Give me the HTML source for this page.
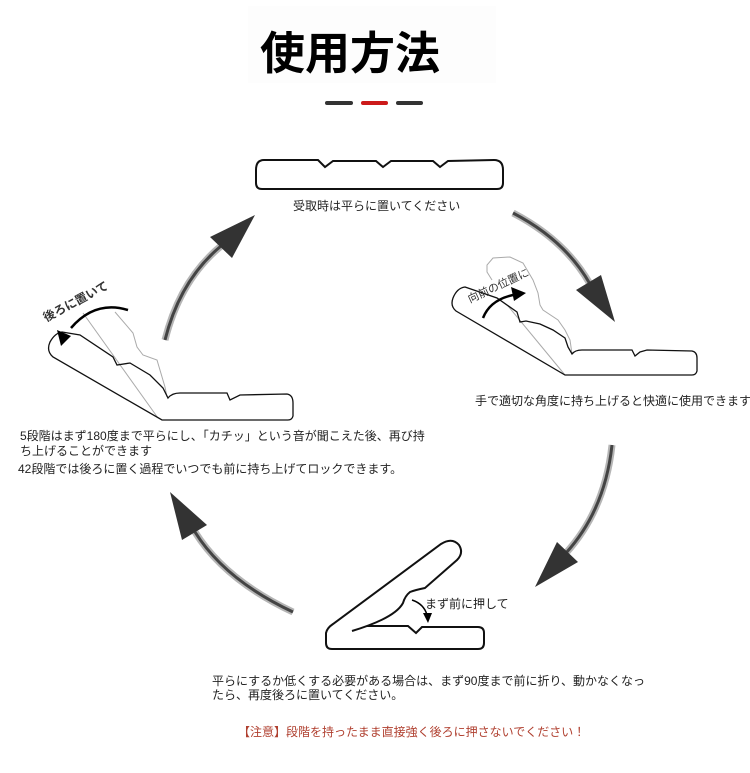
<!DOCTYPE html>
<html>
<head>
<meta charset="utf-8">
<style>
  html,body{margin:0;padding:0;background:#fff;}
  body{width:750px;height:773px;overflow:hidden;}
  svg{display:block;}
  .t{font-family:"Liberation Sans","Noto Sans CJK JP",sans-serif;font-size:12px;fill:#222;}
</style>
</head>
<body>
<svg width="750" height="773" viewBox="0 0 750 773" xmlns="http://www.w3.org/2000/svg">
  <!-- Title -->
  <rect x="248" y="6" width="248" height="77" fill="#fdfdfd"/>
  <text x="260" y="69" font-family="'Noto Sans CJK JP','Noto Sans CJK SC',sans-serif" font-weight="bold" font-size="45" fill="#000">使用方法</text>
  <!-- dashes -->
  <line x1="327" y1="103" x2="351" y2="103" stroke="#333" stroke-width="4" stroke-linecap="round"/>
  <line x1="363" y1="103" x2="386" y2="103" stroke="#cc1a1a" stroke-width="4" stroke-linecap="round"/>
  <line x1="398" y1="103" x2="421" y2="103" stroke="#333" stroke-width="4" stroke-linecap="round"/>

  <!-- Top cushion -->
  <path d="M264 160 L318 160 L325 167 L333 161 L376 161 L383 167 L391 161 L433 161 L440 167 L448 161 L494 160 Q503 160 503 170 L503 183 Q503 189 497 189 L262 189 Q256 189 256 183 L256 170 Q256 160 264 160 Z" fill="#fff" stroke="#111" stroke-width="2"/>
  <text class="t" x="293" y="210">受取時は平らに置いてください</text>

  <!-- Big arrows -->
  <g fill="none" stroke-linecap="butt">
    <path d="M513 213 Q565 240 590 284" stroke="#b5b5b5" stroke-width="7"/>
    <path d="M513 213 Q565 240 590 284" stroke="#444" stroke-width="3"/>
    <path d="M612 445 Q605 510 566 553" stroke="#b5b5b5" stroke-width="7"/>
    <path d="M612 445 Q605 510 566 553" stroke="#444" stroke-width="3"/>
    <path d="M293 612 Q225 580 195 532" stroke="#b5b5b5" stroke-width="7"/>
    <path d="M293 612 Q225 580 195 532" stroke="#444" stroke-width="3"/>
    <path d="M165 340 Q180 280 221 246" stroke="#b5b5b5" stroke-width="7"/>
    <path d="M165 340 Q180 280 221 246" stroke="#444" stroke-width="3"/>
  </g>
  <g fill="#333">
    <polygon points="615,322 576,290 601,275"/>
    <polygon points="535,587 557,542 578,562"/>
    <polygon points="170,492 182,540 207,525"/>
    <polygon points="255,215 210,237 232,258"/>
  </g>

  <!-- Right cushion (tilted) -->
  <path d="M572 354 L570 340 L565 330 L558 320 L543 310 L540 305 L538 293 L533 280 L523 263 L510 257 L493 258 L487 265 L487 272 L492 280" fill="none" stroke="#aaa" stroke-width="1"/>
  <line x1="508" y1="306" x2="565" y2="375" stroke="#aaa" stroke-width="1"/>
  <path d="M465 287 L497 298 L517 312 L520 322 L526 321 L540 324 L553 330 L565 338 L568 347 L572 354 Q575 350 582 350 L632 350 L635 356 L640 352 L647 350 L692 351 Q697 352 697 358 L697 371 Q696 375 692 375 L565 375 L456 311 Q450 306 453 298 Q457 288 465 287 Z" fill="none" stroke="#111" stroke-width="1.3"/>
  <text transform="translate(470,303) rotate(-25)" font-family="'Liberation Sans','Noto Sans CJK JP',sans-serif" font-size="11" fill="#333">向前の位置に</text>
  <path d="M483 318 Q490 300 513 295" fill="none" stroke="#000" stroke-width="2.5"/>
  <polygon points="526,293 511,287 514,301" fill="#000"/>
  <text class="t" x="475" y="405">手で適切な角度に持ち上げると快適に使用できます</text>

  <!-- Left cushion -->
  <line x1="83" y1="313" x2="158" y2="418" stroke="#aaa" stroke-width="1"/>
  <path d="M115 312 L133 333 L137 347 L143 355 L157 360 L165 387 L167 397" fill="none" stroke="#aaa" stroke-width="1"/>
  <path d="M62 332 L80 335 L113 357 L117 365 L130 363 L150 375 L163 388 L168 398 Q172 393 180 393 L227 393 L230 400 L240 395 L287 394 Q293 395 293 403 L293 416 Q292 420 288 420 L162 420 L53 357 Q46 351 50 342 Q55 333 62 332 Z" fill="none" stroke="#111" stroke-width="1.3"/>
  <path d="M128 310 Q95 300 71 328" fill="none" stroke="#000" stroke-width="2.5"/>
  <polygon points="61,346 57,330 71,336" fill="#000"/>
  <text transform="translate(46,322) rotate(-28)" font-family="'Liberation Sans','Noto Sans CJK JP',sans-serif" font-size="12" font-weight="bold" fill="#333">後ろに置いて</text>

  <text class="t" x="20" y="440">5段階はまず180度まで平らにし、「カチッ」という音が聞こえた後、再び持</text>
  <text class="t" x="20" y="455">ち上げることができます</text>
  <text class="t" x="18" y="473">42段階では後ろに置く過程でいつでも前に持ち上げてロックできます。</text>

  <!-- Bottom cushion -->
  <path d="M332 649 Q326 649 326 643 L326 633 Q327 628 333 624 L441 544 Q452 537 459 545 Q464 553 457 560 L425 588 Q415 590 410 592 Q405 596 403 603 Q395 618 352 631" fill="none" stroke="#111" stroke-width="2"/>
  <path d="M367 626 L408 626 L416 633 L422 627 L478 627 Q484 627 484 633 L484 643 Q484 649 478 649 L332 649" fill="none" stroke="#111" stroke-width="2"/>
  <path d="M412 600 Q424 604 427 615" fill="none" stroke="#000" stroke-width="1.5"/>
  <polygon points="428,623 423,613 432,613" fill="#000"/>
  <text class="t" x="425" y="608">まず前に押して</text>

  <text class="t" x="212" y="685">平らにするか低くする必要がある場合は、まず90度まで前に折り、動かなくなっ</text>
  <text class="t" x="212" y="699">たら、再度後ろに置いてください。</text>
  <text x="238" y="736" font-family="'Liberation Sans','Noto Sans CJK JP',sans-serif" font-size="12" fill="#b04030">【注意】段階を持ったまま直接強く後ろに押さないでください！</text>
</svg>
</body>
</html>
